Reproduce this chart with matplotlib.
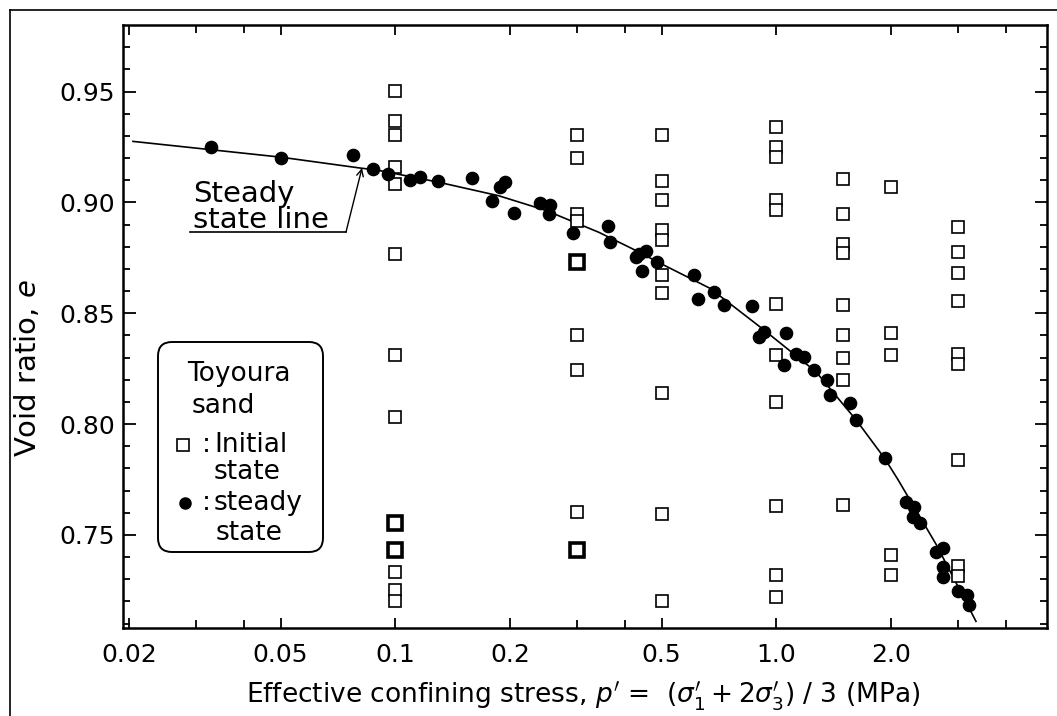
import numpy as np
import matplotlib
matplotlib.use("Agg")
import matplotlib.pyplot as plt
from matplotlib.patches import FancyBboxPatch
from matplotlib.lines import Line2D
from matplotlib.transforms import IdentityTransform
from matplotlib.ticker import FixedLocator, FixedFormatter, NullFormatter

plt.rcParams['font.family'] = ['DejaVu Sans']
plt.rcParams['mathtext.fontset'] = 'dejavusans'

# ---------------- data ----------------
steady_p = [0.0329, 0.050, 0.0775, 0.0875, 0.0958, 0.1093, 0.1162, 0.1298, 0.1588,
            0.1793, 0.1880, 0.1935, 0.2045, 0.2394, 0.2550, 0.2525, 0.2927, 0.362,
            0.365, 0.4275, 0.4357, 0.454, 0.443, 0.487, 0.608, 0.621, 0.687, 0.730,
            0.863, 0.903, 0.929, 1.057, 1.050, 1.127, 1.180, 1.259, 1.360, 1.385,
            1.562, 1.620, 1.924, 2.194, 2.300, 2.280, 2.377, 2.630, 2.740, 2.740,
            2.740, 3.000, 3.160, 3.200]
steady_e = [0.9249, 0.9200, 0.9212, 0.9152, 0.9129, 0.9099, 0.9114, 0.9095, 0.9109,
            0.9005, 0.9069, 0.9092, 0.8952, 0.8997, 0.8986, 0.8949, 0.8864, 0.8892,
            0.8821, 0.8754, 0.8766, 0.8780, 0.8691, 0.8731, 0.8671, 0.8562, 0.8596, 0.8536,
            0.8533, 0.8393, 0.8416, 0.8409, 0.8266, 0.8318, 0.8303, 0.8246, 0.8198, 0.8131,
            0.8093, 0.8018, 0.7845, 0.7650, 0.7628, 0.7582, 0.7553, 0.7425, 0.7440, 0.7357,
            0.7312, 0.7245, 0.7230, 0.7185]

init_p = [0.1] * 11 + [0.3] * 7 + [0.5] * 10 + [1.0] * 11 + [1.5] * 9 + [2.0] * 5 + [3.0] * 9
init_e = [0.9501, 0.9369, 0.9302, 0.9159, 0.9084, 0.8769, 0.8311, 0.8030, 0.7332, 0.7252, 0.7200,
          0.9306, 0.9201, 0.8949, 0.8915, 0.8401, 0.8243, 0.7605,
          0.9305, 0.9095, 0.9009, 0.8874, 0.8829, 0.8671, 0.8589, 0.8138, 0.7593, 0.7203,
          0.9339, 0.9249, 0.9204, 0.9009, 0.8964, 0.8541, 0.8311, 0.8100, 0.7631, 0.7320, 0.7222,
          0.9107, 0.8949, 0.8814, 0.8773, 0.8536, 0.8401, 0.8296, 0.8198, 0.7635,
          0.9069, 0.8409, 0.8311, 0.7410, 0.7320,
          0.8889, 0.8776, 0.8682, 0.8554, 0.8318, 0.8273, 0.7838, 0.7360, 0.7315]

thick_p = [0.1, 0.1, 0.3, 0.3]
thick_e = [0.7555, 0.7432, 0.8731, 0.7432]

ssl_p = [0.0205, 0.05, 0.0807, 0.09, 0.1298, 0.1866, 0.248, 0.342, 0.4185, 0.5,
         0.67, 0.85, 0.922, 1.27, 1.62, 1.924, 2.087, 2.63, 3.34]
ssl_e = [0.9275, 0.9204, 0.9155, 0.9145, 0.9091, 0.9030, 0.8964, 0.8865, 0.8791, 0.8722,
         0.8612, 0.8475, 0.8428, 0.8236, 0.8018, 0.7845, 0.7748, 0.7455, 0.7110]

x_major = [0.02, 0.05, 0.1, 0.2, 0.5, 1.0, 2.0]
x_major_labels = ["0.02", "0.05", "0.1", "0.2", "0.5", "1.0", "2.0"]
x_minor = [0.03, 0.04, 0.3, 0.4, 3.0, 4.0]
y_major = [0.75, 0.80, 0.85, 0.90, 0.95]
y_major_labels = ["0.75", "0.80", "0.85", "0.90", "0.95"]
y_minor = [round(0.71 + 0.01 * i, 2) for i in range(27)]

# ---------------- figure ----------------
W, H = 1057, 716
fig = plt.figure(figsize=(W / 100, H / 100), dpi=100)
L, R, T, B = 123, 1047, 25, 628
ax = fig.add_axes([L / W, 1 - B / H, (R - L) / W, (B - T) / H])


def axc(px, py):
    return ((px - L) / (R - L), (B - py) / (B - T))


ax.set_xscale('log')
ax.set_xlim(0.0193, 5.13)
ax.set_ylim(0.708, 0.980)

ax.plot(ssl_p, ssl_e, color='black', lw=1.2, zorder=2)
ax.plot(init_p, init_e, linestyle='none', marker='s', ms=8.5, mfc='white', mec='black',
        mew=1.2, zorder=3)
ax.plot(thick_p, thick_e, linestyle='none', marker='s', ms=10, mfc='white', mec='black',
        mew=2.6, zorder=3)
ax.plot(steady_p, steady_e, linestyle='none', marker='o', ms=8.8, mfc='black', mec='black',
        zorder=4)

# ticks
ax.xaxis.set_major_locator(FixedLocator(x_major))
ax.xaxis.set_major_formatter(FixedFormatter(x_major_labels))
ax.xaxis.set_minor_locator(FixedLocator(x_minor))
ax.xaxis.set_minor_formatter(NullFormatter())
ax.yaxis.set_major_locator(FixedLocator(y_major))
ax.yaxis.set_major_formatter(FixedFormatter(y_major_labels))
ax.yaxis.set_minor_locator(FixedLocator(y_minor))
ax.tick_params(which='both', direction='in', top=True, right=True, width=1.3, colors='black')
ax.tick_params(axis='x', which='major', length=7, pad=11, labelsize=18)
ax.tick_params(axis='x', which='minor', length=6)
ax.tick_params(axis='y', which='major', length=9, pad=6, labelsize=18)
ax.tick_params(axis='y', which='minor', length=5)
for s in ax.spines.values():
    s.set_linewidth(1.8)

ax.set_ylabel(r"Void ratio, $e$", fontsize=21)
ax.yaxis.label.set_va('center')
ax.yaxis.set_label_coords(*axc(28, 368))
fig.text(583 / W, 1 - 703 / H,
         r"Effective confining stress, $p'$ =  $(\sigma_1' + 2\sigma_3')$ / 3 (MPa)",
         ha='center', va='baseline', fontsize=19)

# steady state line annotation
ax.text(*axc(193, 202), "Steady", transform=ax.transAxes, fontsize=21, va='baseline',
        ha='left')
ax.text(*axc(193, 228), "state line", transform=ax.transAxes, fontsize=21, va='baseline',
        ha='left')
ax.plot([axc(190, 232)[0], axc(346, 232)[0]], [axc(190, 232)[1]] * 2,
        transform=ax.transAxes, color='black', lw=1.2, clip_on=False)
ax.annotate("", xy=axc(362, 168), xycoords='axes fraction', xytext=axc(346, 232),
            textcoords='axes fraction',
            arrowprops=dict(arrowstyle='->', color='black', lw=1.0, shrinkA=0, shrinkB=0,
                            mutation_scale=12))

# legend box (manual)
box = FancyBboxPatch((158, H - 552), 165, 210,
                     boxstyle="round,pad=0,rounding_size=14",
                     transform=IdentityTransform(), facecolor='white', edgecolor='black',
                     lw=1.4, zorder=5, clip_on=False)
ax.add_artist(box)
lt = dict(transform=ax.transAxes, fontsize=19, va='baseline', ha='left', zorder=6)
ax.text(*axc(187, 381), "Toyoura", **lt)
ax.text(*axc(192, 413), "sand", **lt)
ax.text(*axc(202, 452), ":", **lt)
ax.text(*axc(214, 452), "Initial", **lt)
ax.text(*axc(214, 479), "state", **lt)
ax.text(*axc(202, 510), ":", **lt)
ax.text(*axc(214, 510), "steady", **lt)
ax.text(*axc(216, 540), "state", **lt)
ax.plot(*axc(183, 445), transform=ax.transAxes, marker='s', ms=8, mfc='white', mec='black',
        mew=1.2, clip_on=False, zorder=7)
ax.plot(*axc(185, 503), transform=ax.transAxes, marker='o', ms=8, mfc='black', mec='black',
        clip_on=False, zorder=7)

# outer frame of the figure
fig.add_artist(Line2D([10 / W, 10 / W], [0, 1 - 10 / H], color='black', lw=1.2,
                      transform=fig.transFigure))
fig.add_artist(Line2D([10 / W, 1], [1 - 10 / H, 1 - 10 / H], color='black', lw=1.2,
                      transform=fig.transFigure))

fig.savefig("out.png", dpi=100)
